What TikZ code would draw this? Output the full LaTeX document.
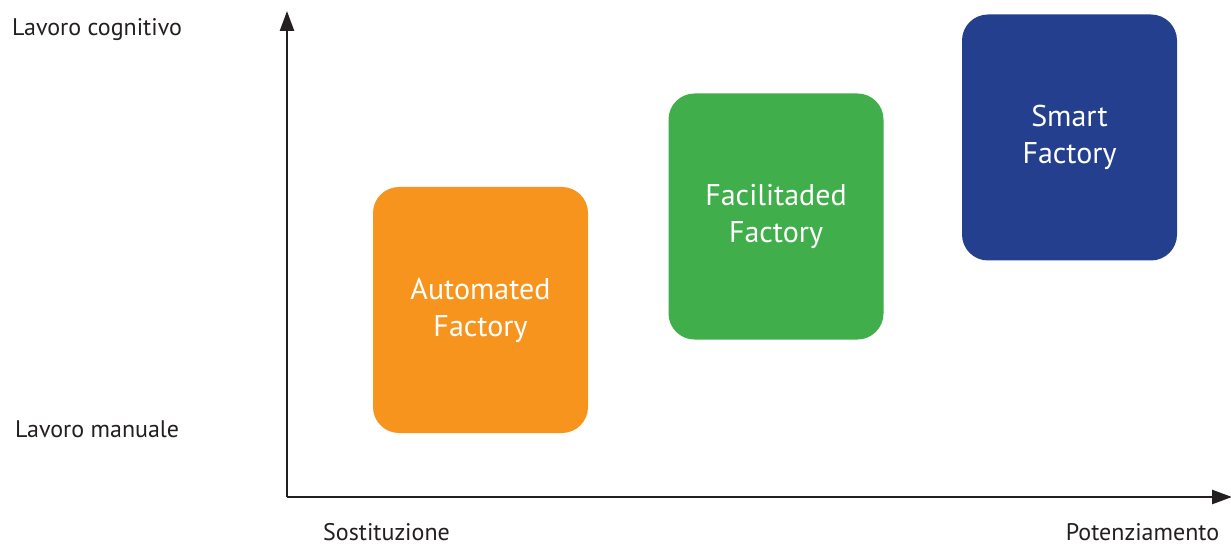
\documentclass[tikz,border=0pt]{standalone}
\usepackage{fontspec}
\setmainfont{PT Sans}
\usetikzlibrary{arrows.meta}
\definecolor{autoOrange}{HTML}{F7941D}
\definecolor{faciGreen}{HTML}{40AE4A}
\definecolor{smartBlue}{HTML}{243F8E}
\definecolor{axisInk}{HTML}{231F20}
\begin{document}
\begin{tikzpicture}[x=1pt,y=-1pt,
  axis/.style={draw=axisInk,line width=2.6pt,-{Triangle[length=20pt,width=14pt]}},
  factory/.style={rounded corners=26pt,minimum width=215pt,minimum height=246pt,
    text=white,align=center,font=\fontsize{30}{37}\selectfont,inner sep=0pt},
  lbl/.style={text=axisInk,font=\fontsize{24}{28}\selectfont,inner sep=0pt}]
\useasboundingbox (0,0) rectangle (1231,545);
\coordinate (O) at (287,497);
\coordinate (ytop) at (287,11);
\coordinate (xend) at (1232,497);
\draw[axis] (O) -- (ytop);
\draw[axis] (O) -- (xend);
\node[factory,fill=autoOrange] (auto) at (480.5,310) {Automated\\Factory};
\node[factory,fill=faciGreen] (faci) at (776,216.5) {Facilitaded\\Factory};
\node[factory,fill=smartBlue] (smart) at (1069.5,137.5) {Smart\\Factory};
\node[lbl,anchor=west] (cog) at (12,30) {Lavoro cognitivo};
\node[lbl,anchor=west] (man) at (15,429) {Lavoro manuale};
\node[lbl,anchor=base] (sost) at (386.5,540) {Sostituzione};
\node[lbl,anchor=base] (pot) at (1142.5,540) {Potenziamento};
\end{tikzpicture}
\end{document}
